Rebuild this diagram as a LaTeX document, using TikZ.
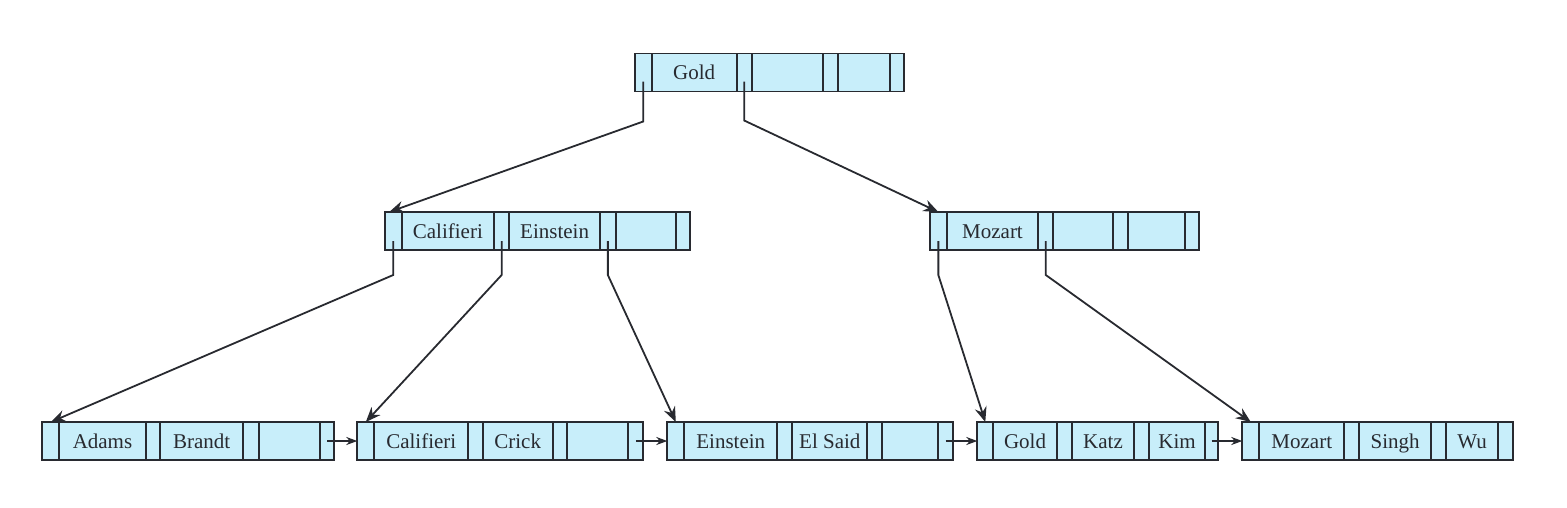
\documentclass[tikz,border=0pt]{standalone}
\usepackage{fontspec}
\setmainfont{Liberation Serif}
\usetikzlibrary{arrows.meta}
\definecolor{cellfill}{RGB}{200,238,250}
\definecolor{linec}{RGB}{40,42,48}
\tikzset{
  cell/.style={fill=cellfill, minimum height=38pt, text height=14pt, text depth=0pt,
    inner sep=0pt, outer sep=0pt, font=\fontsize{21}{24}\selectfont, text=linec},
  cellborder/.style={draw=linec, line width=1.8pt},
  ptr/.style={draw=linec, line width=1.8pt, -{Stealth[length=15pt,width=12pt,inset=5pt]}},
  nxt/.style={draw=linec, line width=1.8pt, -{Stealth[length=11pt,width=8pt,inset=3.5pt]}}
}
\newcommand\cellrow[3]{%
  \foreach \a/\b/\t [count=\i from 0] in {#3} {%
    \pgfmathsetmacro\w{\b-\a}%
    \pgfmathsetmacro\c{(\a+\b)/2}%
    \node[cell, minimum width=\w pt] (#1-\i) at (\c,#2) {\t};
  }%
  \foreach \i in {0,...,6} {%
    \draw[cellborder] (#1-\i.north west) rectangle (#1-\i.south east);
  }%
}
\begin{document}
\begin{tikzpicture}[x=1pt,y=-1pt]
\useasboundingbox (0,0) rectangle (1567,507);
% root
\cellrow{r}{72.5}{634.7/651.7/{},651.7/736.7/Gold,736.7/751.7/{},751.7/823.3/{},823.3/838.3/{},838.3/890/{},890/904/{}}
% internal
\cellrow{i1}{231}{384.7/401.7/{},401.7/494/Califieri,494/509.3/{},509.3/600/Einstein,600/615.7/{},615.7/675.7/{},675.7/690/{}}
\cellrow{i2}{231}{930/946.7/{},946.7/1038.3/Mozart,1038.3/1053.3/{},1053.3/1113.3/{},1113.3/1128.3/{},1128.3/1185/{},1185/1199/{}}
% leaves
\cellrow{l1}{441}{42.3/59.3/{},59.3/145.7/Adams,145.7/160/{},160/243.3/Brandt,243.3/259.3/{},259.3/320/{},320/334/{}}
\cellrow{l2}{441}{357.3/374.3/{},374.3/468.3/Califieri,468.3/482.7/{},482.7/552.7/Crick,552.7/567.3/{},567.3/628.3/{},628.3/643.3/{}}
\cellrow{l3}{441}{667.3/684.3/{},684.3/777.3/Einstein,777.3/792.3/{},792.3/867.3/El Said,867.3/882.3/{},882.3/938.3/{},938.3/952.7/{}}
\cellrow{l4}{441}{977.3/993.3/{},993.3/1056.7/Gold,1056.7/1071.7/{},1071.7/1134.3/Katz,1134.3/1149.3/{},1149.3/1205/Kim,1205/1218.3/{}}
\cellrow{l5}{441}{1242.3/1259.3/{},1259.3/1344.3/Mozart,1344.3/1359.3/{},1359.3/1431/Singh,1431/1446/{},1446/1498.3/Wu,1498.3/1512.7/{}}
% tree pointers
\draw[ptr] ([yshift=-9pt]r-0.center) -- ++(0,40) -- ([xshift=-4pt]i1-0.north);
\draw[ptr] ([yshift=-9pt]r-2.center) -- ++(0,39) -- (i2-0.north);
\draw[ptr] ([yshift=-10pt]i1-0.center) -- ++(0,34) -- (l1-0.north);
\draw[ptr] ([yshift=-10pt]i1-2.center) -- ++(0,34) -- (l2-0.north);
\draw[ptr] ([yshift=-10pt]i1-4.center) -- ++(0,34) -- (l3-0.north);
\draw[ptr] ([yshift=-10pt]i2-0.center) -- ++(0,34) -- (l4-0.north);
\draw[ptr] ([yshift=-10pt]i2-2.center) -- ++(0,34) -- (l5-0.north);
% leaf chain
\draw[nxt] (l1-6.center) -- (l2-0.west);
\draw[nxt] (l2-6.center) -- (l3-0.west);
\draw[nxt] (l3-6.center) -- (l4-0.west);
\draw[nxt] (l4-6.center) -- (l5-0.west);
\end{tikzpicture}
\end{document}
